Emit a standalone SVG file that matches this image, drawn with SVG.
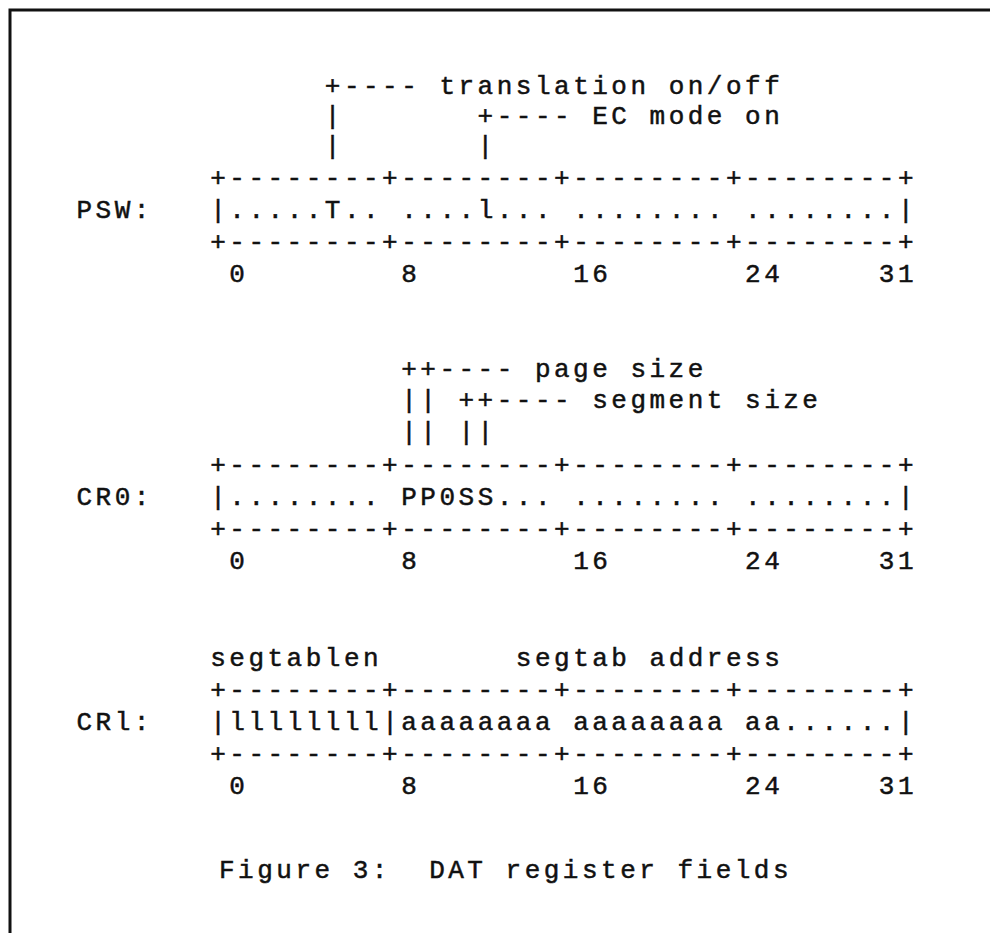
<svg xmlns="http://www.w3.org/2000/svg" width="990" height="933" viewBox="0 0 990 933" xml:space="preserve">
<style>
text { font-family: "Liberation Mono", "Courier New", monospace; font-size: 26px; letter-spacing: 3.5px; fill: #111; stroke: #111; stroke-width: 0.5px; white-space: pre; }
.frame { fill: none; stroke: #111; stroke-width: 3; }
</style>
<rect x="0" y="0" width="990" height="933" fill="#fff"/>
<path class="frame" d="M10 933 V10 H990"/>
<g id="connectors">
<text x="324.8" y="94">+---- translation on/off</text>
<text x="324.8" y="124">|       +---- EC mode on</text>
<text x="324.8" y="154">|       |</text>
<text x="401.2" y="377">++---- page size</text>
<text x="401.2" y="408">|| ++---- segment size</text>
<text x="401.2" y="440">|| ||</text>
</g>
<g id="psw">
<text x="210.2" y="186">+--------+--------+--------+--------+</text>
<text x="76.5" y="218">PSW:   |.....T.. ....l... ........ ........|</text>
<text x="210.2" y="250">+--------+--------+--------+--------+</text>
<text x="229.3" y="282">0        8        16       24     31</text>
</g>
<g id="cr0">
<text x="210.2" y="473">+--------+--------+--------+--------+</text>
<text x="76.5" y="505">CR0:   |........ PP0SS... ........ ........|</text>
<text x="210.2" y="537">+--------+--------+--------+--------+</text>
<text x="229.3" y="569">0        8        16       24     31</text>
</g>
<g id="cr1">
<text x="210.2" y="666">segtablen       segtab address</text>
<text x="210.2" y="698">+--------+--------+--------+--------+</text>
<text x="76.5" y="730">CRl:   |llllllll|aaaaaaaa aaaaaaaa aa......|</text>
<text x="210.2" y="762">+--------+--------+--------+--------+</text>
<text x="229.3" y="794">0        8        16       24     31</text>
</g>
<g id="caption">
<text x="219" y="878">Figure 3:  DAT register fields</text>
</g>
</svg>
